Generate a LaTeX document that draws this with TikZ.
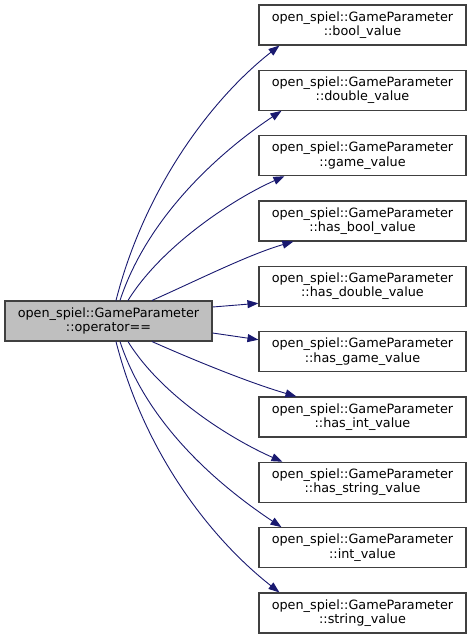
\documentclass[tikz,border=0pt]{standalone}
\usepackage{fontspec}
\setmainfont{DejaVu Sans}
\usetikzlibrary{arrows.meta}

\definecolor{edgeblue}{HTML}{191970}
\definecolor{boxgrey}{HTML}{404040}
\definecolor{boxfill}{HTML}{BFBFBF}

\begin{document}
\begin{tikzpicture}[x=1pt,y=-1pt,
  member/.style={draw=boxgrey,line width=1.1pt,minimum width=207pt,
    minimum height=40pt,inner sep=0pt,align=center,
    font=\fontsize{12.8}{14.4}\selectfont},
  callee/.style={member,fill=white},
  caller/.style={member,fill=boxfill},
  call/.style={draw=edgeblue,line width=0.9pt,
    -{Triangle[length=11pt,width=8pt]}}]

\useasboundingbox (0,0) rectangle (472,640);

% Fonction appelante
\node[caller] (op) at (108.5,321)
{open\_spiel::GameParameter\\::operator==};

% Fonctions appelees
\node[callee] (bv) at (362.5,25)
{open\_spiel::GameParameter\\::bool\_value};
\node[callee] (dv) at (362.5,90.3)
{open\_spiel::GameParameter\\::double\_value};
\node[callee] (gv) at (362.5,155.7)
{open\_spiel::GameParameter\\::game\_value};
\node[callee] (hbv) at (362.5,221)
{open\_spiel::GameParameter\\::has\_bool\_value};
\node[callee] (hdv) at (362.5,286.3)
{open\_spiel::GameParameter\\::has\_double\_value};
\node[callee] (hgv) at (362.5,351.7)
{open\_spiel::GameParameter\\::has\_game\_value};
\node[callee] (hiv) at (362.5,417)
{open\_spiel::GameParameter\\::has\_int\_value};
\node[callee] (hsv) at (362.5,482.3)
{open\_spiel::GameParameter\\::has\_string\_value};
\node[callee] (iv) at (362.5,547.7)
{open\_spiel::GameParameter\\::int\_value};
\node[callee] (sv) at (362.5,613)
{open\_spiel::GameParameter\\::string\_value};

% Appels vers le haut
\draw[call] ([xshift=7.5pt]op.north)
.. controls +(28,-110) and +(-70,55) ..
([xshift=21pt]bv.south west);

\draw[call] ([xshift=11.5pt]op.north)
.. controls +(28,-85) and +(-60,40) ..
([xshift=23pt]dv.south west);

\draw[call] ([xshift=19.5pt]op.north)
.. controls +(34,-55) and +(-50,22) ..
([xshift=26pt]gv.south west);

\draw[call] ([xshift=43.5pt]op.north)
.. controls +(45,-20) and +(-45,13) ..
([xshift=35pt]hbv.south west);

% Appels directs
\draw[call] ([yshift=14pt]op.east) -- ([yshift=-17pt]hdv.west);
\draw[call] ([yshift=-12pt]op.east) -- ([yshift=12pt]hgv.west);

% Appels vers le bas
\draw[call] ([xshift=43.5pt]op.south)
.. controls +(45,20) and +(-45,-13) ..
([xshift=38pt]hiv.north west);

\draw[call] ([xshift=19.5pt]op.south)
.. controls +(34,55) and +(-50,-22) ..
([xshift=24pt]hsv.north west);

\draw[call] ([xshift=11.5pt]op.south)
.. controls +(28,85) and +(-60,-40) ..
([xshift=23pt]iv.north west);

\draw[call] ([xshift=7.5pt]op.south)
.. controls +(28,110) and +(-70,-55) ..
([xshift=21pt]sv.north west);

\end{tikzpicture}
\end{document}
